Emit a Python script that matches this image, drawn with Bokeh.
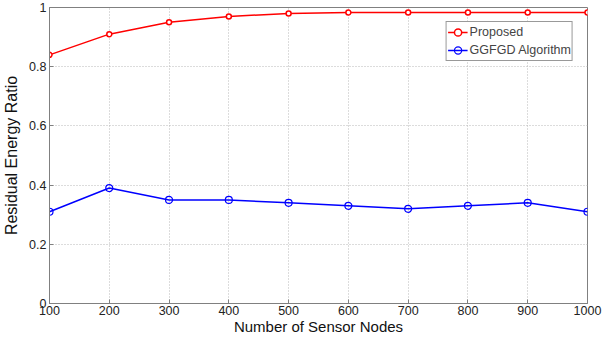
from bokeh.plotting import figure
from bokeh.models import Range1d, FixedTicker, Legend, LegendItem
from bokeh.embed import file_html
from bokeh.resources import INLINE

nodes = [100, 200, 300, 400, 500, 600, 700, 800, 900, 1000]
proposed = [0.84, 0.91, 0.95, 0.97, 0.98, 0.983, 0.983, 0.983, 0.983, 0.983]
ggfgd = [0.31, 0.39, 0.35, 0.35, 0.34, 0.33, 0.32, 0.33, 0.34, 0.31]
y_ticks = [0, 0.2, 0.4, 0.6, 0.8, 1]
y_tick_labels = {0: "0", 0.2: "0.2", 0.4: "0.4", 0.6: "0.6", 0.8: "0.8", 1: "1"}

FONT = "Liberation Sans"

p = figure(frame_width=538, frame_height=296, output_backend="svg", toolbar_location=None,
           x_range=Range1d(100, 1000), y_range=Range1d(0, 1),
           min_border_left=42, min_border_right=16, min_border_top=7, min_border_bottom=33)

p.outline_line_color = "#808080"
p.background_fill_color = "white"
p.border_fill_color = "white"

for ax in (p.xaxis[0], p.yaxis[0]):
    ax.axis_line_color = "#808080"
    ax.major_tick_line_color = "#808080"
    ax.major_tick_in = 4
    ax.major_tick_out = 0
    ax.minor_tick_line_color = None
    ax.major_label_text_font = FONT
    ax.major_label_text_font_size = "12.5px"
    ax.major_label_text_color = "#222222"
    ax.axis_label_text_font = FONT
    ax.axis_label_text_font_style = "normal"
    ax.axis_label_text_color = "#111111"

p.xaxis.ticker = FixedTicker(ticks=nodes)
p.yaxis.ticker = FixedTicker(ticks=y_ticks)
p.yaxis.major_label_overrides = y_tick_labels
p.xaxis.axis_label = "Number of Sensor Nodes"
p.yaxis.axis_label = "Residual Energy Ratio"
p.xaxis.axis_label_text_font_size = "15px"
p.yaxis.axis_label_text_font_size = "16px"
p.xaxis.major_label_standoff = 2
p.xaxis.axis_label_standoff = 0
p.yaxis.major_label_standoff = 3
p.yaxis.axis_label_standoff = 6

for g in (p.xgrid[0], p.ygrid[0]):
    g.grid_line_color = "#b8b8b8"
    g.grid_line_dash = "1 2"
    g.grid_line_width = 1

r1 = p.line(nodes, proposed, line_color="red", line_width=1.5)
m1 = p.scatter(nodes, proposed, marker="circle", size=5, line_color="red",
               fill_color="white", line_width=1.5)
r2 = p.line(nodes, ggfgd, line_color="blue", line_width=1.5)
m2 = p.scatter(nodes, ggfgd, marker="circle", size=7, line_color="blue",
               fill_color=None, line_width=1.2)

legend = Legend(items=[LegendItem(label="Proposed", renderers=[r1, m1]),
                       LegendItem(label="GGFGD Algorithm", renderers=[r2, m2])],
                location="top_right")
legend.label_text_font = FONT
legend.label_text_font_size = "12.5px"
legend.border_line_color = "#333333"
legend.border_line_width = 1
legend.margin = 14
legend.padding = 1
legend.spacing = 0
legend.glyph_width = 20
legend.glyph_height = 18
legend.label_height = 18
legend.label_standoff = 2
legend.background_fill_alpha = 1
p.add_layout(legend)

open("out.html", "w").write(file_html(p, INLINE))
